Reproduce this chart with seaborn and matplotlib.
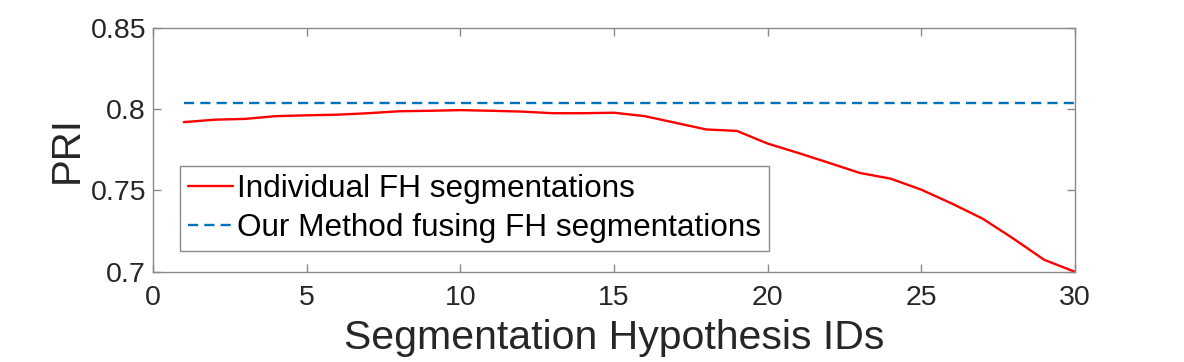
import matplotlib
matplotlib.use("Agg")
import matplotlib.pyplot as plt
import seaborn as sns
import pandas as pd

hypothesis_ids = list(range(1, 31))
individual_pri = [0.792, 0.7935, 0.794, 0.7957, 0.7962, 0.7966, 0.7975, 0.7987, 0.799, 0.7994,
                  0.799, 0.7985, 0.7975, 0.7975, 0.7978, 0.7957, 0.7916, 0.7875, 0.7866, 0.7788,
                  0.773, 0.7669, 0.7607, 0.7572, 0.7504, 0.7418, 0.7325, 0.7202, 0.7072, 0.6998]
fused_ids = [1, 30]
fused_pri = [0.8035, 0.8035]
label_individual = "Individual FH segmentations"
label_fused = "Our Method fusing FH segmentations"
x_ticks = [0, 5, 10, 15, 20, 25, 30]
y_ticks = [0.7, 0.75, 0.8, 0.85]
y_ticklabels = ["0.7", "0.75", "0.8", "0.85"]

sns.set_theme(style="white")
plt.rcParams["font.family"] = ["Liberation Sans", "DejaVu Sans"]

fig = plt.figure(figsize=(11.84, 3.62), dpi=100)
ax = fig.add_axes([0.1292, 0.25, 0.7787, 0.6727])

df1 = pd.DataFrame({"id": hypothesis_ids, "pri": individual_pri})
df2 = pd.DataFrame({"id": fused_ids, "pri": fused_pri})
sns.lineplot(data=df1, x="id", y="pri", ax=ax, color="#ff0000", linewidth=1.7,
             label=label_individual)
sns.lineplot(data=df2, x="id", y="pri", ax=ax, color="#0072bd", linewidth=1.7,
             linestyle=(0, (4.3, 2.6)), label=label_fused)

ax.set_xlim(0, 30)
ax.set_ylim(0.7, 0.85)
ax.set_xticks(x_ticks)
ax.set_xticklabels([str(t) for t in x_ticks])
ax.set_yticks(y_ticks)
ax.set_yticklabels(y_ticklabels)

spine_color = "#8a8a8a"
for s in ax.spines.values():
    s.set_visible(True)
    s.set_color(spine_color)
    s.set_linewidth(1.0)
ax.tick_params(axis="both", which="both", direction="in", length=6, width=1.0,
               color=spine_color, labelcolor="#262626", labelsize=20.5,
               top=True, right=True, bottom=True, left=True)
ax.tick_params(axis="x", pad=9.5)
ax.tick_params(axis="y", pad=5)

ax.set_xlabel("Segmentation Hypothesis IDs", fontsize=29.5, color="#262626", labelpad=6)
ax.set_ylabel("PRI", fontsize=29, color="#262626", labelpad=3.5)

leg = ax.legend(loc="lower left", bbox_to_anchor=(0.029, 0.084), borderaxespad=0,
                fontsize=22.7, frameon=True, fancybox=False, framealpha=1,
                edgecolor=spine_color, handlelength=1.45, handletextpad=0.12,
                borderpad=0.25, labelspacing=0.3)
leg.get_frame().set_linewidth(1.0)
for t in leg.get_texts():
    t.set_color("black")

fig.savefig("out.png", dpi=100, facecolor="white")
